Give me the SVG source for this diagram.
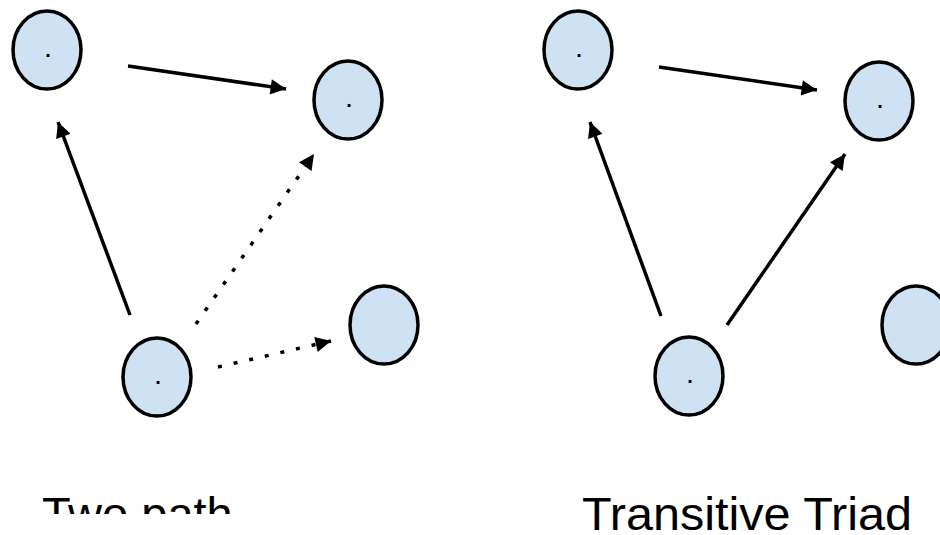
<svg xmlns="http://www.w3.org/2000/svg" width="940" height="535" viewBox="0 0 940 535">
<style>
.node ellipse{fill:#cfe2f3;stroke:#000;stroke-width:3.5}
.dot{font-family:"Liberation Sans",Arial,sans-serif;font-size:20px;font-weight:bold;text-anchor:middle;fill:#000}
.edge{stroke:#000;stroke-width:3.5;fill:none}
.dotted{stroke-dasharray:4,12}
.label{font-family:"Liberation Sans",Arial,sans-serif;font-size:47px;fill:#000}
</style>
<defs>
<marker id="arr" viewBox="0 0 10 10" refX="10" refY="5" markerWidth="4.8" markerHeight="4.4" markerUnits="strokeWidth" orient="auto">
<path d="M0,0 L10,5 L0,10 z" fill="#000"/>
</marker>
<clipPath id="clipTwo"><rect x="0" y="440" width="470" height="74"/></clipPath>
</defs>
<g id="connectors">
<line class="edge" x1="128" y1="66" x2="286" y2="89" marker-end="url(#arr)"/>
<line class="edge" x1="130" y1="315" x2="58" y2="122" marker-end="url(#arr)"/>
<line class="edge dotted" x1="196" y1="324" x2="314" y2="154" marker-end="url(#arr)"/>
<line class="edge dotted" x1="218" y1="367" x2="331" y2="341" marker-end="url(#arr)"/>
<line class="edge" x1="659" y1="67" x2="817" y2="90" marker-end="url(#arr)"/>
<line class="edge" x1="661" y1="316" x2="590" y2="122" marker-end="url(#arr)"/>
<line class="edge" x1="727" y1="325" x2="845" y2="154" marker-end="url(#arr)"/>
</g>
<g id="L-A" class="node"><ellipse cx="47" cy="50" rx="34" ry="39"/><text class="dot" x="48" y="57">.</text></g>
<g id="L-B" class="node"><ellipse cx="348" cy="100" rx="34" ry="39"/><text class="dot" x="349" y="107">.</text></g>
<g id="L-C" class="node"><ellipse cx="157" cy="377" rx="34" ry="39"/><text class="dot" x="158" y="384">.</text></g>
<g id="L-D" class="node"><ellipse cx="384" cy="325" rx="34" ry="39"/></g>
<g id="R-A" class="node"><ellipse cx="578" cy="50" rx="34" ry="39"/><text class="dot" x="579" y="57">.</text></g>
<g id="R-B" class="node"><ellipse cx="879" cy="101" rx="34" ry="39"/><text class="dot" x="880" y="108">.</text></g>
<g id="R-C" class="node"><ellipse cx="689" cy="376" rx="34" ry="39"/><text class="dot" x="690" y="383">.</text></g>
<g id="R-D" class="node"><ellipse cx="916" cy="325" rx="34" ry="39"/></g>
<g id="labels">
<text class="label" x="42" y="530" clip-path="url(#clipTwo)">Two path</text>
<text class="label" x="582" y="530" textLength="330" lengthAdjust="spacingAndGlyphs">Transitive Triad</text>
</g>
</svg>
